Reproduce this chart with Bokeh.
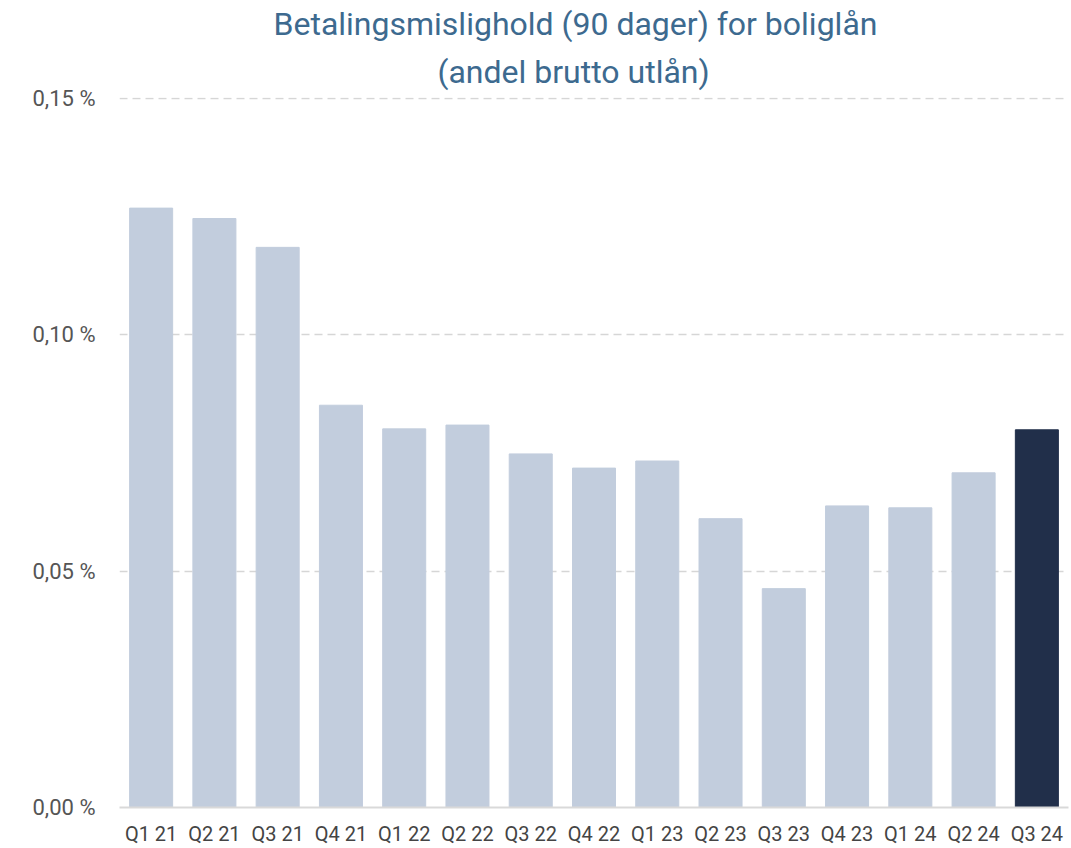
from bokeh.plotting import figure
from bokeh.models import ColumnDataSource, FactorRange, FixedTicker, CustomJSTickFormatter, Title, Range1d
from bokeh.embed import file_html
from bokeh.resources import INLINE

quarters = ["Q1 21", "Q2 21", "Q3 21", "Q4 21", "Q1 22", "Q2 22", "Q3 22", "Q4 22",
            "Q1 23", "Q2 23", "Q3 23", "Q4 23", "Q1 24", "Q2 24", "Q3 24"]
values = [0.1268, 0.1246, 0.1185, 0.0851, 0.0801, 0.0809, 0.0748, 0.0718,
          0.0733, 0.0611, 0.0463, 0.0638, 0.0634, 0.0708, 0.0799]
y_ticks = [0.0, 0.05, 0.10, 0.15]
title_lines = ["Betalingsmislighold (90 dager) for boliglån", "(andel brutto utlån)"]

light = "#c2cddd"
dark = "#212f4a"
colors = [light] * (len(quarters) - 1) + [dark]

src = ColumnDataSource(dict(q=quarters, v=values, c=colors))

p = figure(x_range=FactorRange(*quarters, range_padding=0), y_range=Range1d(0, 0.1502),
           width=1071, height=848, output_backend="svg", toolbar_location=None,
           min_border_left=119, min_border_right=3, min_border_top=97, min_border_bottom=41)
p.title.visible = False
p.outline_line_color = None
p.background_fill_color = "white"

p.vbar(x="q", top="v", width=0.68, color="c", source=src)

p.xgrid.grid_line_color = None
p.ygrid.grid_line_color = "#d6d6d6"
p.ygrid.grid_line_width = 1.5
p.ygrid.grid_line_dash = "8 5"

p.yaxis.ticker = FixedTicker(ticks=y_ticks)
p.yaxis.formatter = CustomJSTickFormatter(code="return tick.toFixed(2).replace('.', ',') + ' %';")
p.yaxis.axis_line_color = None
p.yaxis.major_tick_line_color = None
p.yaxis.minor_tick_line_color = None
p.yaxis.major_tick_out = 0
p.yaxis.major_tick_in = 0
p.yaxis.major_label_standoff = 24
p.yaxis.major_label_text_font = "Roboto"
p.yaxis.major_label_text_font_size = "22px"
p.yaxis.major_label_text_color = "#555555"

p.xaxis.axis_line_color = "#d9d9d9"
p.xaxis.axis_line_width = 2
p.xaxis.major_tick_line_color = None
p.xaxis.minor_tick_line_color = None
p.xaxis.major_tick_out = 0
p.xaxis.major_tick_in = 0
p.xaxis.major_label_standoff = 14
p.xaxis.major_label_text_font = "Roboto"
p.xaxis.major_label_text_font_size = "20px"
p.xaxis.major_label_text_color = "#444444"

offsets = [154, 318]
standoffs = [2, 14]
for txt, off, so in reversed(list(zip(title_lines, offsets, standoffs))):
    p.add_layout(Title(text=txt, align="left", offset=off, standoff=so,
                       text_font="Roboto", text_font_size="32px", text_font_style="normal",
                       text_color="#3d6a8f"), "above")

open("out.html", "w").write(file_html(p, INLINE))
